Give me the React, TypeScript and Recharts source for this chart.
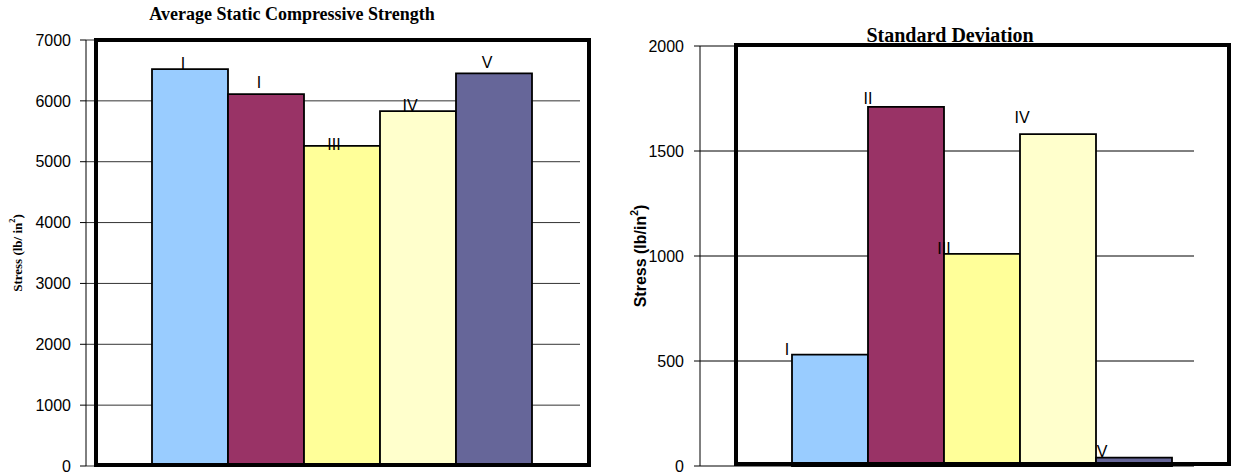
import { Bar, BarChart, CartesianGrid, LabelList, XAxis, YAxis } from "recharts"

const groups = ["I", "II", "III", "IV", "V"]
const avgStrength = [6520, 6110, 5260, 5830, 6450]
const stdDeviation = [530, 1710, 1010, 1580, 40]
const strengthTags = ["I", "I", "III", "IV", "V"]
const deviationTags = ["I", "II", "III", "IV", "V"]
const strengthTicks = [0, 1000, 2000, 3000, 4000, 5000, 6000, 7000]
const deviationTicks = [0, 500, 1000, 1500, 2000]

const fills = ["#99CCFF", "#993366", "#FFFF99", "#FFFFCC", "#666699"]

// [dx, dy] nudges for the roman-numeral tags
const strengthNudge = [[-7, 0], [-7, -6], [-8, 4], [-8, 0], [-7, -5]]
const deviationNudge = [[-5, 0], [0, -3], [0, 0], [2, -11], [6, -1]]

const sans = "'Liberation Sans', Arial, sans-serif"
const serif = "'Liberation Serif', 'Times New Roman', serif"

const toRow = (values: number[]) => [
  { name: "all", ...Object.fromEntries(groups.map((g, i) => [g, values[i]])) },
]

const strengthData = toRow(avgStrength)
const deviationData = toRow(stdDeviation)

function tagRenderer(text: string, nudge: number[], fromLeft: boolean) {
  return (props: any) => {
    const x = Number(props.x ?? props.viewBox?.x ?? 0)
    const y = Number(props.y ?? props.viewBox?.y ?? 0)
    const w = Number(props.width ?? props.viewBox?.width ?? 0)
    const ax = fromLeft ? x : x + w / 2
    return (
      <text x={ax + nudge[0]} y={y + nudge[1]} textAnchor="middle" fontFamily={sans} fontSize={16} fill="#000">
        {text}
      </text>
    )
  }
}

function StressTitle(props: any) {
  const { viewBox, offsetX, family, size, gap } = props
  const cx = viewBox.x + offsetX
  const cy = viewBox.y + viewBox.height / 2
  return (
    <text
      x={cx}
      y={cy}
      transform={`rotate(-90 ${cx} ${cy})`}
      textAnchor="middle"
      dominantBaseline="central"
      fontFamily={family}
      fontWeight="bold"
      fontSize={size}
      fill="#000"
    >
      {`Stress (lb/${gap}in`}
      <tspan dy={-size * 0.4} fontSize={size * 0.65}>2</tspan>
      <tspan dy={size * 0.4}>)</tspan>
    </text>
  )
}

function Frame({ left, top, width, height }: { left: number; top: number; width: number; height: number }) {
  return (
    <div
      style={{
        position: "absolute",
        left,
        top,
        width,
        height,
        border: "4px solid #000",
        boxSizing: "border-box",
        pointerEvents: "none",
      }}
    />
  )
}

export default function App() {
  return (
    <div style={{ position: "absolute", left: 0, top: 0, width: 1241, height: 476, background: "#fff" }}>
      {/* left panel */}
      <div
        style={{
          position: "absolute",
          left: 0,
          top: 5,
          width: 584,
          textAlign: "center",
          fontFamily: serif,
          fontWeight: "bold",
          fontSize: 18,
          lineHeight: "18px",
        }}
      >
        Average Static Compressive Strength
      </div>
      <div style={{ position: "absolute", left: 0, top: 0 }}>
        <BarChart
          width={620}
          height={476}
          data={strengthData}
          margin={{ top: 40, right: 40, bottom: 10, left: 0 }}
          barGap={0}
          barCategoryGap={48}
        >
          <CartesianGrid horizontal vertical={false} stroke="#333" />
          <XAxis dataKey="name" hide padding={{ left: 18, right: 0 }} />
          <YAxis
            width={86}
            domain={[0, 7000]}
            ticks={strengthTicks}
            interval={0}
            tickSize={6}
            tickMargin={9}
            axisLine={{ stroke: "#000" }}
            tickLine={{ stroke: "#000" }}
            tick={{ fill: "#000", fontFamily: sans, fontSize: 16 }}
            label={<StressTitle offsetX={17} family={serif} size={13} gap=" " />}
          />
          <YAxis yAxisId="edge" orientation="right" width={0} tick={false} tickLine={false} axisLine={{ stroke: "#808080" }} />
          {groups.map((g, i) => (
            <Bar key={g} dataKey={g} fill={fills[i]} stroke="#000" strokeWidth={1.8} isAnimationActive={false}>
              <LabelList dataKey={g} content={tagRenderer(strengthTags[i], strengthNudge[i], false)} />
            </Bar>
          ))}
        </BarChart>
      </div>
      <Frame left={94} top={38} width={497} height={429} />

      {/* right panel */}
      <div
        style={{
          position: "absolute",
          left: 750,
          top: 25,
          width: 400,
          textAlign: "center",
          fontFamily: serif,
          fontWeight: "bold",
          fontSize: 20,
          lineHeight: "20px",
        }}
      >
        Standard Deviation
      </div>
      <div style={{ position: "absolute", left: 620, top: 0 }}>
        <BarChart
          width={621}
          height={476}
          data={deviationData}
          margin={{ top: 46, right: 47, bottom: 10, left: 0 }}
          barGap={0}
          barCategoryGap={22}
        >
          <CartesianGrid horizontal vertical={false} stroke="#000" />
          <XAxis dataKey="name" hide padding={{ left: 70, right: 0 }} />
          <YAxis
            width={80}
            domain={[0, 2000]}
            ticks={deviationTicks}
            interval={0}
            tickSize={6}
            tickMargin={10}
            axisLine={{ stroke: "#000" }}
            tickLine={{ stroke: "#000" }}
            tick={{ fill: "#000", fontFamily: sans, fontSize: 16 }}
            label={<StressTitle offsetX={20} family={sans} size={16} gap="" />}
          />
          <YAxis yAxisId="edge" orientation="right" width={0} tick={false} tickLine={false} axisLine={{ stroke: "#808080" }} />
          {groups.map((g, i) => (
            <Bar key={g} dataKey={g} fill={fills[i]} stroke="#000" strokeWidth={1.8} isAnimationActive={false}>
              <LabelList dataKey={g} content={tagRenderer(deviationTags[i], deviationNudge[i], true)} />
            </Bar>
          ))}
        </BarChart>
      </div>
      <Frame left={734} top={43} width={497} height={423} />
    </div>
  )
}
